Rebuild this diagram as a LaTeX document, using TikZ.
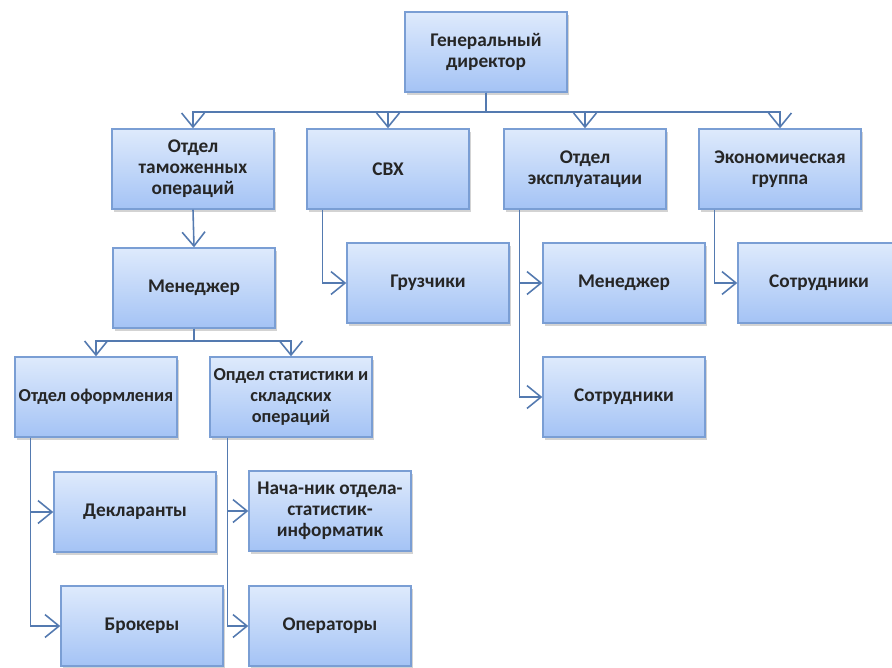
\documentclass[tikz,border=0pt]{standalone}
\usepackage{fontspec}
\setmainfont{Carlito}
\usepackage{tikz}
\usetikzlibrary{arrows.meta,shadows,calc}
\definecolor{boxtop}{RGB}{222,234,252}
\definecolor{boxbot}{RGB}{164,195,245}
\definecolor{boxline}{RGB}{122,158,212}
\definecolor{linkblue}{RGB}{84,122,176}
\definecolor{textgray}{RGB}{38,38,38}

\begin{document}
\begin{tikzpicture}[x=0.2mm,y=-0.2mm,
    unit/.style={draw=boxline,line width=0.8pt,top color=boxtop,bottom color=boxbot,
      minimum width=32.4mm,minimum height=16mm,inner sep=0pt,align=center,
      font=\fontsize{11}{12}\selectfont\bfseries,text=textgray,
      drop shadow={opacity=0.35,shadow xshift=1.2pt,shadow yshift=-1.5pt}},
    tight/.style={font=\fontsize{10.4}{12}\selectfont\bfseries},
    link/.style={draw=linkblue,line width=0.9pt,-{Straight Barb[length=8pt,width=13pt]}}]
    \useasboundingbox (0,0) rectangle (892,667); \clip (0,0) rectangle (892,667);
    % first level
    \node[unit] (gen) at (486,52) {Генеральный\\директор};
    \node[unit] (tam) at (193,169) {Отдел\\таможенных\\операций};
    \node[unit] (svh) at (388,169) {СВХ};
    \node[unit] (expl) at (585,169) {Отдел\\эксплуатации};
    \node[unit] (econ) at (780,169) {Экономическая\\группа};
    % second level
    \node[unit] (men) at (194,288) {Менеджер};
    \node[unit] (gruz) at (428,283) {Грузчики};
    \node[unit] (expmen) at (624,283) {Менеджер};
    \node[unit] (expsotr) at (624,397) {Сотрудники};
    \node[unit] (ecosotr) at (819,283) {Сотрудники};
    \node[unit,tight] (oform) at (96,397) {Отдел оформления};
    \node[unit,tight] (stat) at (291,397) {Опдел статистики и\\складских\\операций};
    \node[unit] (dekl) at (135,512) {Декларанты};
    \node[unit] (nach) at (330,511) {Нача-ник отдела-\\статистик-\\информатик};
    \node[unit] (brok) at (142,626) {Брокеры};
    \node[unit] (oper) at (330,626) {Операторы};
    % connectors
    \foreach \t in {tam,svh,expl,econ} \draw[link] (gen.south) -- ++(0,19) -| (\t.north);
    \draw[link] (tam.south) -- (men.north);
    \foreach \t in {oform,stat} \draw[link] (men.south) -- ++(0,12) -| (\t.north);
    \draw[link] ([xshift=3.2mm]svh.south west) |- (gruz.west);
    \draw[link] ([xshift=3.2mm]expl.south west) |- (expmen.west);
    \draw[link] ([xshift=3.2mm]expl.south west) |- (expsotr.west);
    \draw[link] ([xshift=3.2mm]econ.south west) |- (ecosotr.west);
    \draw[link] ([xshift=3.2mm]oform.south west) |- (dekl.west);
    \draw[link] ([xshift=3.2mm]oform.south west) |- (brok.west);
    \draw[link] ([xshift=3.6mm]stat.south west) |- (nach.west);
    \draw[link] ([xshift=3.6mm]stat.south west) |- (oper.west);
\end{tikzpicture}
\end{document}
